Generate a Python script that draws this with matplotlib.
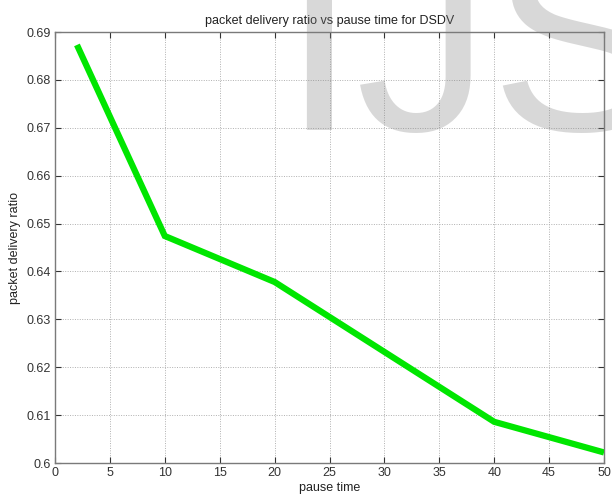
import matplotlib
matplotlib.use("Agg")
import matplotlib.pyplot as plt

# pause time (s) and measured packet delivery ratio for DSDV
pause_time = [2, 10, 20, 30, 40, 50]
delivery_ratio = [0.6873, 0.6474, 0.6378, 0.6232, 0.6086, 0.6022]

x_ticks = [0, 5, 10, 15, 20, 25, 30, 35, 40, 45, 50]
y_ticks = [0.60, 0.61, 0.62, 0.63, 0.64, 0.65, 0.66, 0.67, 0.68, 0.69]
y_tick_labels = ["0.6", "0.61", "0.62", "0.63", "0.64", "0.65", "0.66", "0.67", "0.68", "0.69"]

plt.rcParams["font.family"] = ["Liberation Sans", "DejaVu Sans"]

fig = plt.figure(figsize=(6.12, 4.98), dpi=100)
ax = fig.add_axes([55 / 612, 35 / 498, 549 / 612, 431 / 498])

ax.plot(pause_time, delivery_ratio, color="#00e600", linewidth=4.5,
        solid_joinstyle="miter", solid_capstyle="butt", zorder=3)

ax.set_xlim(0, 50)
ax.set_ylim(0.60, 0.69)
ax.set_xticks(x_ticks)
ax.set_xticklabels([str(t) for t in x_ticks])
ax.set_yticks(y_ticks)
ax.set_yticklabels(y_tick_labels)

ax.grid(True, linestyle=(0, (1, 1.5)), color="#b0b0b0", linewidth=0.7)
ax.tick_params(direction="in", length=4, width=0.8, top=True, right=True,
               labelsize=9, colors="#333333", pad=3)
for side in ax.spines.values():
    side.set_color("#7a7a7a")
    side.set_linewidth(1.0)

ax.set_title("packet delivery ratio vs pause time for DSDV", fontsize=9,
             color="#222222", pad=6)
ax.set_xlabel("pause time", fontsize=9, color="#222222", labelpad=2)
ax.set_ylabel("packet delivery ratio", fontsize=9, color="#222222", labelpad=4)

# journal watermark across the upper right
fig.text(281 / 612, (498 - 130) / 498, "IJS", fontsize=194, color="#808080",
         alpha=0.3, ha="left", va="baseline", zorder=10)

fig.savefig("out.png", dpi=100, facecolor="white")
